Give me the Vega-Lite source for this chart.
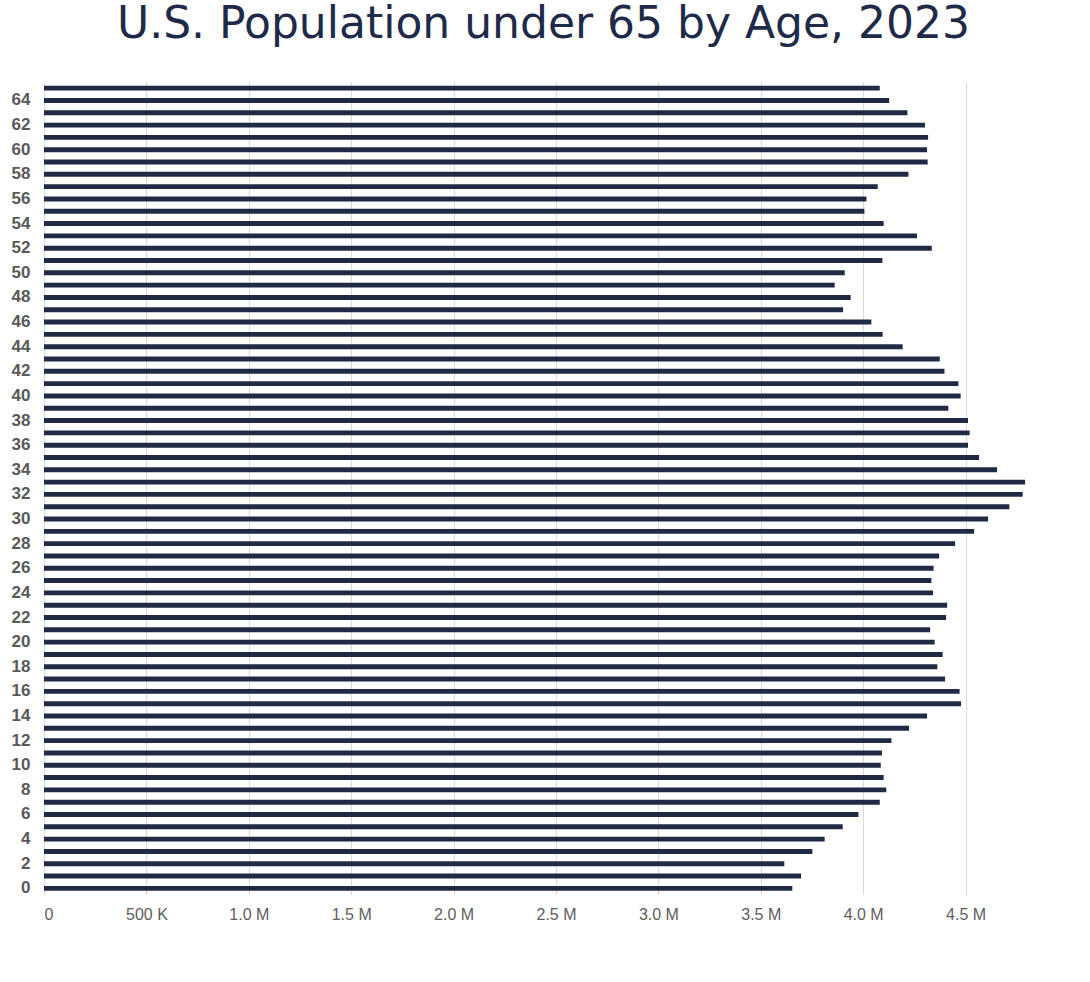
{
  "$schema": "https://vega.github.io/schema/vega-lite/v6.json",
  "width": 983,
  "height": 812.5,
  "padding": {"left": 11, "top": 3, "right": 0, "bottom": 0},
  "background": "white",
  "title": {
    "text": "U.S. Population under 65 by Age, 2023",
    "font": "DejaVu Sans",
    "fontSize": 44,
    "fontWeight": "normal",
    "color": "#1f2a48",
    "anchor": "middle",
    "offset": 35,
    "dx": 8
  },
  "data": {
    "values": [
      {"age": 0, "population": 3654000},
      {"age": 1, "population": 3697000},
      {"age": 2, "population": 3615000},
      {"age": 3, "population": 3752000},
      {"age": 4, "population": 3812000},
      {"age": 5, "population": 3900000},
      {"age": 6, "population": 3977000},
      {"age": 7, "population": 4081000},
      {"age": 8, "population": 4113000},
      {"age": 9, "population": 4100000},
      {"age": 10, "population": 4086000},
      {"age": 11, "population": 4092000},
      {"age": 12, "population": 4138000},
      {"age": 13, "population": 4224000},
      {"age": 14, "population": 4312000},
      {"age": 15, "population": 4478000},
      {"age": 16, "population": 4471000},
      {"age": 17, "population": 4400000},
      {"age": 18, "population": 4362000},
      {"age": 19, "population": 4388000},
      {"age": 20, "population": 4349000},
      {"age": 21, "population": 4327000},
      {"age": 22, "population": 4405000},
      {"age": 23, "population": 4410000},
      {"age": 24, "population": 4341000},
      {"age": 25, "population": 4333000},
      {"age": 26, "population": 4344000},
      {"age": 27, "population": 4371000},
      {"age": 28, "population": 4449000},
      {"age": 29, "population": 4542000},
      {"age": 30, "population": 4610000},
      {"age": 31, "population": 4714000},
      {"age": 32, "population": 4779000},
      {"age": 33, "population": 4791000},
      {"age": 34, "population": 4654000},
      {"age": 35, "population": 4566000},
      {"age": 36, "population": 4512000},
      {"age": 37, "population": 4520000},
      {"age": 38, "population": 4512000},
      {"age": 39, "population": 4416000},
      {"age": 40, "population": 4476000},
      {"age": 41, "population": 4465000},
      {"age": 42, "population": 4397000},
      {"age": 43, "population": 4374000},
      {"age": 44, "population": 4193000},
      {"age": 45, "population": 4095000},
      {"age": 46, "population": 4040000},
      {"age": 47, "population": 3902000},
      {"age": 48, "population": 3939000},
      {"age": 49, "population": 3861000},
      {"age": 50, "population": 3910000},
      {"age": 51, "population": 4094000},
      {"age": 52, "population": 4335000},
      {"age": 53, "population": 4263000},
      {"age": 54, "population": 4100000},
      {"age": 55, "population": 4006000},
      {"age": 56, "population": 4016000},
      {"age": 57, "population": 4071000},
      {"age": 58, "population": 4221000},
      {"age": 59, "population": 4315000},
      {"age": 60, "population": 4312000},
      {"age": 61, "population": 4317000},
      {"age": 62, "population": 4302000},
      {"age": 63, "population": 4216000},
      {"age": 64, "population": 4127000},
      {"age": 65, "population": 4081000}
    ]
  },
  "mark": {"type": "bar", "color": "#1f2a44"},
  "encoding": {
    "y": {
      "field": "age",
      "type": "ordinal",
      "sort": "descending",
      "scale": {"paddingInner": 0.6, "paddingOuter": 0.3},
      "axis": {
        "title": null,
        "values": [0, 2, 4, 6, 8, 10, 12, 14, 16, 18, 20, 22, 24, 26, 28, 30, 32, 34, 36, 38, 40, 42, 44, 46, 48, 50, 52, 54, 56, 58, 60, 62, 64],
        "ticks": false,
        "domain": false,
        "labelFont": "Liberation Sans",
        "labelFontWeight": "bold",
        "labelFontSize": 17,
        "labelColor": "#595959",
        "labelPadding": 14
      }
    },
    "x": {
      "field": "population",
      "type": "quantitative",
      "scale": {"domain": [0, 4800000], "nice": false},
      "axis": {
        "title": null,
        "values": [0, 500000, 1000000, 1500000, 2000000, 2500000, 3000000, 3500000, 4000000, 4500000],
        "labelExpr": "datum.value == 0 ? '0' : (datum.value < 1000000 ? format(datum.value / 1000, 'd') + ' K' : format(datum.value / 1000000, '.1f') + ' M')",
        "ticks": false,
        "domain": false,
        "grid": true,
        "gridColor": "#d9d9d9",
        "labelFont": "Liberation Sans",
        "labelFontSize": 16,
        "labelColor": "#606060",
        "labelPadding": 12
      }
    }
  },
  "config": {
    "view": {"stroke": null}
  }
}
